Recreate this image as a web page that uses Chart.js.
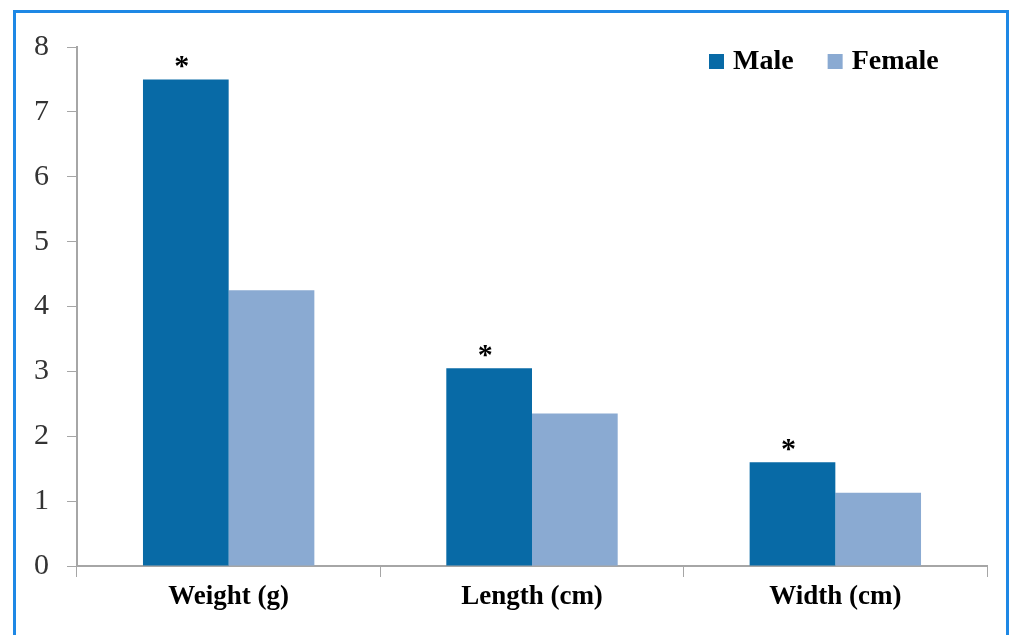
<!DOCTYPE html>
<html>
<head>
<meta charset="utf-8">
<script src="https://cdn.jsdelivr.net/npm/chart.js@4.4.1/dist/chart.umd.min.js"></script>
<style>
html,body{margin:0;padding:0;background:#fff;}
#wrap{width:1013px;height:635px;position:relative;}
</style>
</head>
<body>
<div id="wrap"><canvas id="c" width="1013" height="635"></canvas></div>
<script>
const categories = ['Weight (g)', 'Length (cm)', 'Width (cm)'];
const maleValues = [7.5, 3.05, 1.6];
const femaleValues = [4.25, 2.35, 1.13];
const significance = ['*', '*', '*'];
const yTicks = [0, 1, 2, 3, 4, 5, 6, 7, 8];

const MALE = 'rgb(8,106,166)';
const FEMALE = 'rgb(138,170,210)';

const frame = {
  id: 'frame',
  beforeDraw(chart) {
    const ctx = chart.ctx;
    ctx.save();
    ctx.fillStyle = '#fff';
    ctx.fillRect(0, 0, chart.width, chart.height);
    ctx.strokeStyle = 'rgb(30,136,229)';
    ctx.lineWidth = 3;
    ctx.beginPath();
    ctx.moveTo(14.5, 640);
    ctx.lineTo(14.5, 11.5);
    ctx.lineTo(1007.5, 11.5);
    ctx.lineTo(1007.5, 640);
    ctx.stroke();
    ctx.restore();
  }
};

const extras = {
  id: 'extras',
  afterDraw(chart) {
    const ctx = chart.ctx;
    ctx.save();
    const meta = chart.getDatasetMeta(0);
    ctx.fillStyle = '#000';
    ctx.font = 'bold 30px "Liberation Serif"';
    ctx.textAlign = 'center';
    ctx.textBaseline = 'middle';
    meta.data.forEach((bar, i) => {
      if (significance[i]) ctx.fillText(significance[i], bar.x - 4, bar.y - 12);
    });
    const items = chart.data.datasets;
    let x = 709;
    const yc = 61;
    ctx.textAlign = 'left';
    ctx.font = 'bold 28px "Liberation Serif"';
    items.forEach((ds) => {
      ctx.fillStyle = ds.backgroundColor;
      ctx.fillRect(x, yc - 7, 15, 15);
      ctx.fillStyle = '#000';
      ctx.fillText(ds.label, x + 24, yc + 1);
      x += 24 + ctx.measureText(ds.label).width + 34;
    });
    ctx.restore();
  }
};

new Chart(document.getElementById('c'), {
  type: 'bar',
  data: {
    labels: categories,
    datasets: [
      { label: 'Male', data: maleValues, backgroundColor: MALE, barPercentage: 1, categoryPercentage: 0.565 },
      { label: 'Female', data: femaleValues, backgroundColor: FEMALE, barPercentage: 1, categoryPercentage: 0.565 }
    ]
  },
  options: {
    responsive: false,
    animation: false,
    layout: { padding: { left: 0, right: 26, top: 47, bottom: 0 } },
    plugins: { legend: { display: false }, tooltip: { enabled: false } },
    scales: {
      x: {
        afterFit(s) { s.height = 69; },
        grid: { display: true, drawOnChartArea: false, drawTicks: true, tickLength: 11, color: '#a6a6a6', offset: true },
        border: { display: true, color: '#a6a6a6', width: 2 },
        ticks: { color: '#000', font: { family: '"Liberation Serif"', size: 27, weight: 'bold' }, padding: 4 }
      },
      y: {
        min: 0, max: 8,
        afterFit(s) { s.width = 77; },
        afterBuildTicks(s) { s.ticks = yTicks.map(v => ({ value: v })); },
        grid: { display: true, drawOnChartArea: false, drawTicks: true, tickLength: 10, color: '#a6a6a6' },
        border: { display: true, color: '#a6a6a6', width: 2 },
        ticks: { color: '#333', font: { family: '"Liberation Serif"', size: 30 }, padding: 18 }
      }
    }
  },
  plugins: [frame, extras]
});
</script>
</body>
</html>
